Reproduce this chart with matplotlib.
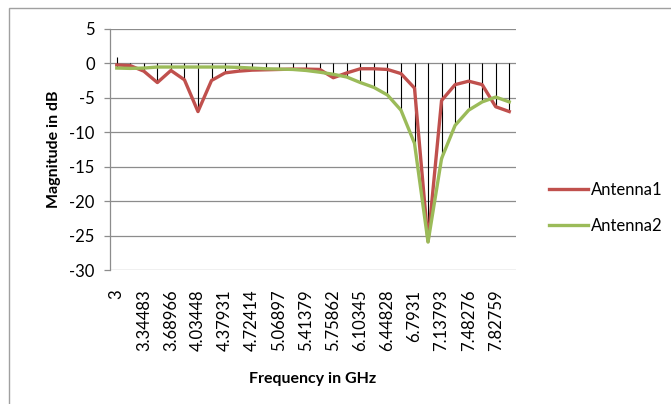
import numpy as np
import matplotlib.pyplot as plt
from matplotlib.patches import Rectangle

freq_labels = ["3", "3.17241", "3.34483", "3.51724", "3.68966", "3.86207",
               "4.03448", "4.2069", "4.37931", "4.55172", "4.72414", "4.89655",
               "5.06897", "5.24138", "5.41379", "5.58621", "5.75862", "5.93103",
               "6.10345", "6.27586", "6.44828", "6.62069", "6.7931", "6.96552",
               "7.13793", "7.31034", "7.48276", "7.65517", "7.82759", "8"]

antenna1 = [-0.25, -0.35, -1.15, -2.8, -1.05, -2.4, -7.0, -2.5, -1.4, -1.15,
            -1.0, -0.95, -0.9, -0.85, -0.85, -0.9, -2.1, -1.4, -0.8, -0.8,
            -0.9, -1.5, -3.6, -25.8, -5.4, -3.1, -2.6, -3.1, -6.3, -7.0]

antenna2 = [-0.7, -0.75, -0.7, -0.55, -0.55, -0.55, -0.55, -0.55, -0.55, -0.6,
            -0.7, -0.8, -0.85, -0.9, -1.05, -1.3, -1.6, -2.0, -2.8, -3.5,
            -4.6, -6.8, -11.6, -25.9, -13.8, -9.0, -6.8, -5.6, -4.9, -5.6]

# upper end of the high-low lines
hilo_top = [0.9, 0, 0, 0, 0, 0, 0, 0, 0, 0, 0, 0, 0, 0, 0,
            0, 0, 0, 0, 0, 0, 0, 0, 0, 0, 0, 0, 0, 0, 0]

plt.rcParams['font.family'] = ['Lato', 'DejaVu Sans']
plt.rcParams['axes.unicode_minus'] = False

W, H = 671, 404
fig = plt.figure(figsize=(W / 100, H / 100), dpi=100)
ax = fig.add_axes([110 / W, 1 - 270.4 / H, 406 / W, (270.4 - 28.7) / H])

# outer chart border
fig.patches.append(Rectangle((9 / W, -0.1), 1.2, 1 - 7.5 / H + 0.1, transform=fig.transFigure,
                             fill=False, edgecolor='#a0a0a0', linewidth=1))

x = np.arange(len(freq_labels))
low = np.minimum(antenna1, antenna2)
ax.vlines(x, low, hilo_top, colors='black', linewidth=0.8, zorder=3)

ax.plot(x, antenna1, color='#c0504d', linewidth=2.4, label='Antenna1', zorder=4)
ax.plot(x, antenna2, color='#9bbb59', linewidth=2.4, label='Antenna2', zorder=5)

ax.set_xlim(-0.5, len(x) - 0.5)
ax.set_ylim(-30, 5)
ax.set_yticks(np.arange(-30, 6, 5))
ax.yaxis.grid(True, color='#8c8c8c', linewidth=0.9)
ax.set_axisbelow(True)

ax.set_xticks(x[::2])
ax.set_xticklabels(freq_labels[::2], rotation=90, va='top', ha='center')
ax.tick_params(axis='x', length=0, pad=14, labelsize=12, colors='black')
ax.tick_params(axis='y', length=4, width=0.9, color='#8c8c8c', labelsize=12, pad=7)

for side in ['top', 'right', 'bottom']:
    ax.spines[side].set_visible(False)
ax.spines['left'].set_color('#8c8c8c')
ax.spines['left'].set_linewidth(0.9)

ax.set_xlabel('Frequency in GHz', fontsize=11.5, fontweight='bold', labelpad=15)
ax.set_ylabel('Magnitude in dB', fontsize=11.5, fontweight='bold', labelpad=6)

ax.legend(loc='center left', bbox_to_anchor=(1.045, 0.258), frameon=False, fontsize=12,
          handlelength=2.3, handletextpad=0.2, labelspacing=1.2)

fig.savefig('out.png', dpi=100)
